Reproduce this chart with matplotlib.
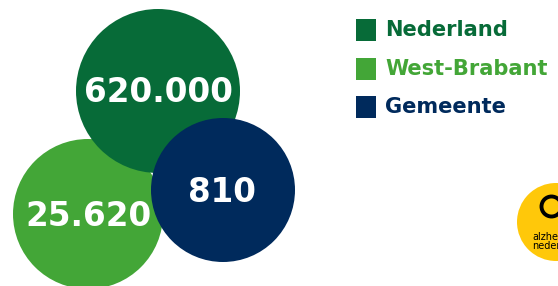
import matplotlib
matplotlib.use("Agg")
import matplotlib.pyplot as plt
from matplotlib.patches import Circle, Rectangle

# Data
categories = ["Nederland", "West-Brabant", "Gemeente"]
values = [620000, 25620, 810]
value_labels = ["620.000", "25.620", "810"]
colors = ["#076B38", "#43A637", "#002A5C"]

# Layout (pixel space)
centers = [(158, 91), (88, 214), (223, 190)]
radii = [82, 75, 72]
label_pos = [(158, 92), (88, 216), (222, 192)]

fig = plt.figure(figsize=(5.58, 2.86), dpi=100)
ax = fig.add_axes([0, 0, 1, 1])
ax.set_xlim(0, 558)
ax.set_ylim(286, 0)
ax.set_aspect("equal")
ax.axis("off")

draw_order = [1, 0, 2]
for z, i in enumerate(draw_order):
    ax.add_patch(Circle(centers[i], radii[i], facecolor=colors[i], edgecolor="none", zorder=2 + z))
    ax.text(label_pos[i][0], label_pos[i][1], value_labels[i], color="white",
            fontsize=23.5, fontweight="bold", ha="center", va="center",
            family="DejaVu Sans", zorder=10)

# Legend
leg_y = [30, 69, 107]
for i, cat in enumerate(categories):
    ax.add_patch(Rectangle((356, leg_y[i] - 11), 20, 22, facecolor=colors[i], edgecolor="none"))
    ax.text(385, leg_y[i], cat, color=colors[i], fontsize=15.1, fontweight="bold",
            ha="left", va="center", family="DejaVu Sans")

# Logo (partially cut off at the right edge, as in the reference)
ax.add_patch(Circle((556, 222), 39, facecolor="#FFC80A", edgecolor="none"))
ax.add_patch(Circle((551.5, 206.5), 10, facecolor="none", edgecolor="black", linewidth=2.8))
ax.text(532, 237, "alzheimer", fontsize=7, color="black", ha="left", va="center", family="DejaVu Sans")
ax.text(532, 246, "nederland", fontsize=7, color="black", ha="left", va="center", family="DejaVu Sans")

fig.savefig("out.png", dpi=100)
